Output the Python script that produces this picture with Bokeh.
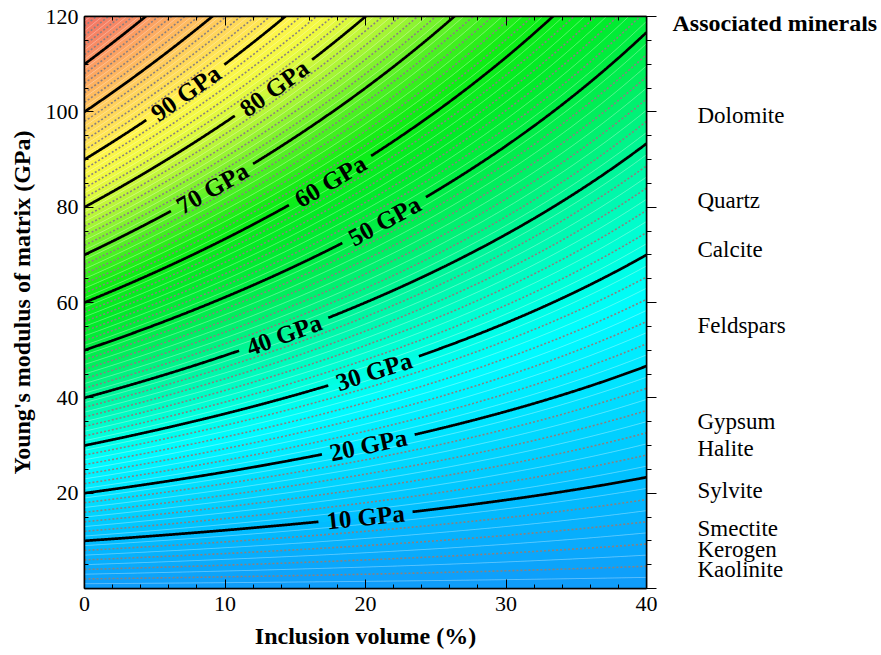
import numpy as np
from bokeh.plotting import figure
from bokeh.layouts import row
from bokeh.models import LinearAxis, FixedTicker, Range1d
from bokeh.embed import file_html
from bokeh.resources import INLINE
from bokeh.core.properties import value

# ---------------- data ----------------
x_ticks = [0, 10, 20, 30, 40]
x_minor_ticks = list(range(0, 41, 2))
y_ticks_left = [20, 40, 60, 80, 100, 120]
y_ticks_right = [0, 20, 40, 60, 80, 100, 120]
y_minor_ticks = list(range(0, 121, 5))

# effective modulus levels (GPa)
major_levels = [10, 20, 30, 40, 50, 60, 70, 80, 90, 100, 110]
dotted_levels = [k for k in range(2, 120, 2) if k % 10 != 0]
white_levels = list(range(1, 120, 2))
band_levels = list(range(0, 120))

label_levels = [10, 20, 30, 40, 50, 60, 70, 80, 90]
label_volume = [20.0, 20.2, 20.6, 14.2, 21.35, 17.5, 9.1, 13.5, 7.2]

mineral_names = ["Dolomite", "Quartz", "Calcite", "Feldspars", "Gypsum",
                 "Halite", "Sylvite", "Smectite", "Kerogen", "Kaolinite"]
mineral_label_y = [99.2, 81.3, 71.1, 55.1, 35.0, 29.4, 20.5, 12.6, 8.2, 4.0]
minerals_title = "Associated minerals"

# colour anchors (effective modulus GPa -> RGB)
color_anchor_E = [0, 10, 20, 26, 32, 40, 48, 55, 62, 70, 77, 84, 89, 96, 103, 111, 120]
color_anchor_rgb = [(16, 155, 250), (0, 190, 255), (0, 230, 255), (0, 252, 255),
                    (0, 255, 215), (0, 245, 150), (0, 238, 80), (0, 236, 40),
                    (15, 238, 20), (100, 242, 40), (180, 246, 55), (240, 250, 65),
                    (255, 245, 75), (255, 215, 90), (255, 185, 95), (250, 145, 100),
                    (242, 110, 100)]

# model: E_eff = E_matrix * (1 - phi) / (1 + phi)
def matrix_modulus(E_eff, vol_pct):
    phi = np.asarray(vol_pct) / 100.0
    return E_eff * (1 + phi) / (1 - phi)

def slope(E_eff, vol_pct):
    phi = vol_pct / 100.0
    return E_eff * 0.02 / (1 - phi) ** 2

# ---------------- geometry ----------------
W, H = 881, 655
FL, FR, FT, FB = 84, 646, 16, 588
P1W = 660                      # width of main figure
frame_w, frame_h = FR - FL, FB - FT
x0, x1, y0, y1 = 0, 40, 0, 120
sxs = frame_w / (x1 - x0)
sys_ = frame_h / (y1 - y0)

FONT = "Liberation Serif"

p = figure(width=P1W, height=H, x_range=Range1d(x0, x1), y_range=Range1d(y0, y1),
           output_backend="svg", toolbar_location=None,
           min_border_left=FL, min_border_right=P1W - FR,
           min_border_top=FT, min_border_bottom=H - FB)
p.grid.visible = False
p.outline_line_color = "black"
p.outline_line_width = 1.5
p.border_fill_color = "white"

vol = np.linspace(0, 40, 801)

def rgb_at(E):
    r = np.interp(E, color_anchor_E, [c[0] for c in color_anchor_rgb])
    g = np.interp(E, color_anchor_E, [c[1] for c in color_anchor_rgb])
    b = np.interp(E, color_anchor_E, [c[2] for c in color_anchor_rgb])
    return "#%02x%02x%02x" % (int(round(r)), int(round(g)), int(round(b)))

# filled bands (1 GPa each)
vb = np.linspace(0, 40, 161)
band_xs, band_ys, band_cols = [], [], []
for k in band_levels:
    lo = matrix_modulus(k, vb)
    hi = matrix_modulus(k + 1, vb)
    band_xs.append(list(vb) + list(vb[::-1]))
    band_ys.append(list(lo) + list(hi[::-1]))
    band_cols.append(rgb_at(k + 0.5))
p.patches(band_xs, band_ys, fill_color=band_cols, line_color=band_cols, line_width=1)

# white faint lines
p.multi_line([list(vol)] * len(white_levels),
             [list(matrix_modulus(k, vol)) for k in white_levels],
             line_color="white", line_alpha=0.35, line_width=1)
# dotted minor contours
p.multi_line([list(vol)] * len(dotted_levels),
             [list(matrix_modulus(k, vol)) for k in dotted_levels],
             line_color="#8a8080", line_width=1.6, line_dash="2 2")

# major contour lines with gaps for labels
label_font_px = 25
half_gap = 0.5 * 3.139 * label_font_px + 8
mx, my = [], []
lab_x, lab_y, lab_t, lab_a = [], [], [], []
for E in major_levels:
    ys = matrix_modulus(E, vol)
    keep = np.ones_like(vol, dtype=bool)
    if E in label_levels:
        lv = label_volume[label_levels.index(E)]
        ly = float(matrix_modulus(E, lv))
        d = np.hypot((vol - lv) * sxs, (ys - ly) * sys_)
        keep = d > half_gap
        lab_x.append(lv)
        lab_y.append(ly)
        lab_t.append("%d GPa" % E)
        lab_a.append(float(np.arctan(slope(E, lv) * sys_ / sxs)))
    idx = np.where(keep)[0]
    if len(idx) == 0:
        continue
    runs = np.split(idx, np.where(np.diff(idx) > 1)[0] + 1)
    for r in runs:
        if len(r) > 1:
            mx.append(list(vol[r]))
            my.append(list(ys[r]))
p.multi_line(mx, my, line_color="black", line_width=2.7)

p.text(x=lab_x, y=lab_y, text=lab_t, angle=lab_a,
       text_font=value(FONT), text_font_style="bold",
       text_font_size="%dpx" % label_font_px, text_color="black",
       text_align="center", text_baseline="middle")

# ---------------- axes ----------------
def style_axis(ax):
    ax.axis_line_color = "black"
    ax.axis_line_width = 1.5
    ax.major_tick_line_color = "black"
    ax.minor_tick_line_color = "black"
    ax.major_tick_line_width = 1
    ax.minor_tick_line_width = 1
    ax.major_label_text_font = FONT
    ax.major_label_text_font_size = "22px"
    ax.major_label_text_color = "black"
    ax.axis_label_text_font = FONT
    ax.axis_label_text_font_style = "bold"
    ax.axis_label_text_font_size = "24px"
    ax.axis_label_text_color = "black"

xa = p.xaxis[0]
xa.ticker = FixedTicker(ticks=x_ticks, minor_ticks=x_minor_ticks)
style_axis(xa)
xa.major_tick_in, xa.major_tick_out = 9, 0
xa.minor_tick_in, xa.minor_tick_out = 4, 0
xa.major_label_standoff = 8
xa.axis_label = "Inclusion volume (%)"
xa.axis_label_standoff = 9

ya = p.yaxis[0]
ya.ticker = FixedTicker(ticks=y_ticks_left, minor_ticks=y_minor_ticks)
style_axis(ya)
ya.major_tick_in, ya.major_tick_out = 9, 0
ya.minor_tick_in, ya.minor_tick_out = 4, 0
ya.major_label_standoff = 6
ya.axis_label = "Young's modulus of matrix (GPa)"
ya.axis_label_standoff = 8

top = LinearAxis(ticker=FixedTicker(ticks=x_ticks, minor_ticks=x_minor_ticks))
style_axis(top)
top.major_tick_in, top.major_tick_out = 9, 0
top.minor_tick_in, top.minor_tick_out = 4, 0
top.major_label_text_font_size = "1px"
top.major_label_text_color = None
top.major_label_standoff = 0
p.add_layout(top, "above")

right = LinearAxis(ticker=FixedTicker(ticks=y_ticks_right, minor_ticks=y_minor_ticks))
style_axis(right)
right.major_tick_in, right.major_tick_out = 0, 10
right.minor_tick_in, right.minor_tick_out = 0, 5
right.major_label_text_font_size = "1px"
right.major_label_text_color = None
right.major_label_standoff = 0
p.add_layout(right, "right")

# ---------------- side panel with mineral names ----------------
p2 = figure(width=W - P1W, height=H, x_range=Range1d(P1W, W), y_range=p.y_range,
            output_backend="svg", toolbar_location=None,
            x_axis_location=None, y_axis_location=None,
            min_border_left=0, min_border_right=0,
            min_border_top=FT, min_border_bottom=H - FB)
p2.grid.visible = False
p2.outline_line_color = None
p2.border_fill_color = "white"
p2.background_fill_color = "white"

p2.text(x=[697] * len(mineral_names), y=mineral_label_y, text=mineral_names,
        text_font=value(FONT), text_font_size="23px", text_color="black",
        text_align="left", text_baseline="middle")
p2.text(x=[672], y=[y1 - (22 - FT) / sys_], text=[minerals_title],
        text_font=value(FONT), text_font_style="bold", text_font_size="24px",
        text_color="black", text_align="left", text_baseline="middle")

layout = row(p, p2, spacing=0)
open("out.html", "w").write(file_html(layout, INLINE))
